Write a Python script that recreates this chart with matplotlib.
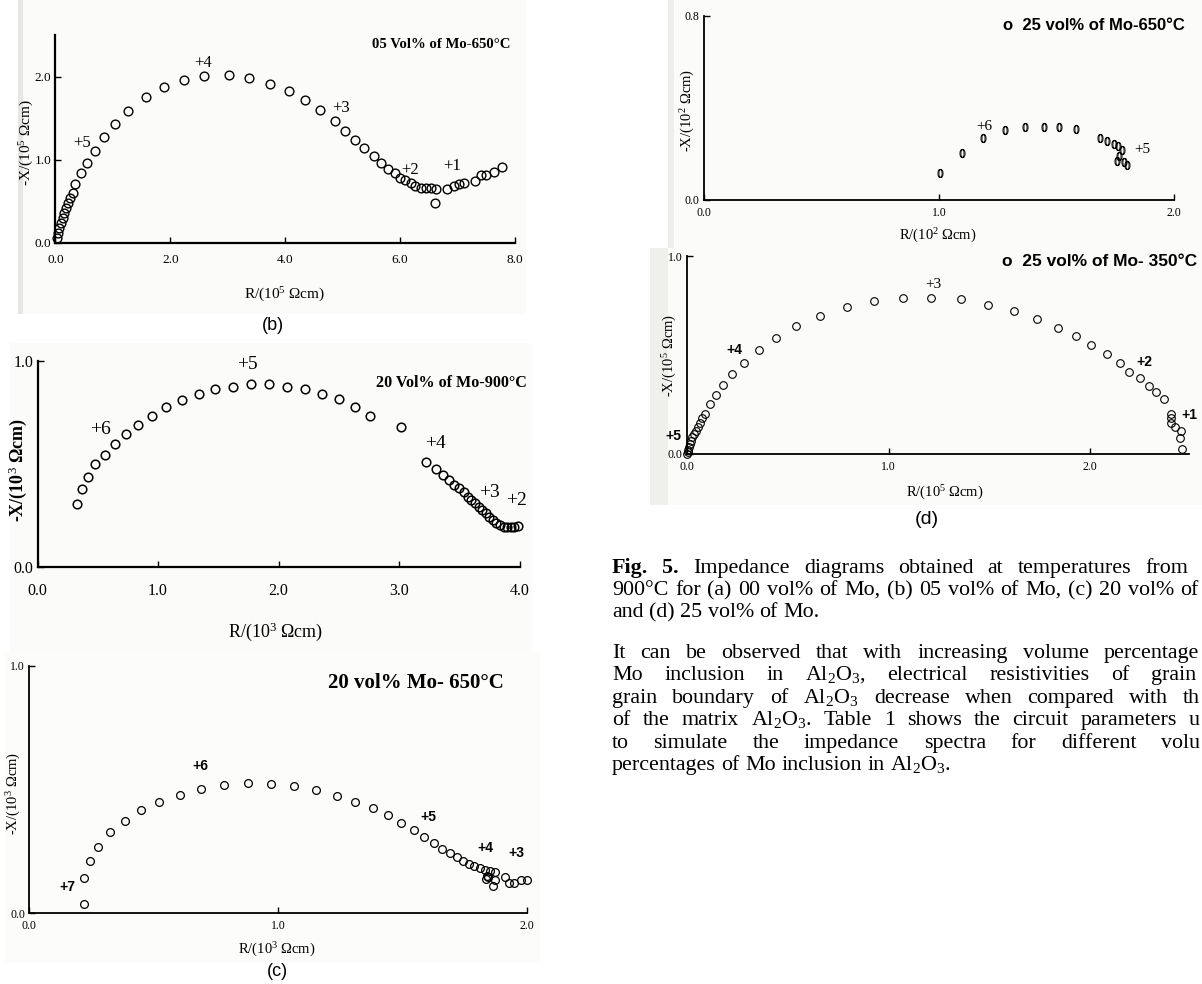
import matplotlib
matplotlib.use("Agg")
import matplotlib.pyplot as plt
from matplotlib.patches import Rectangle

plt.rcParams['font.family'] = ['Liberation Serif', 'DejaVu Serif']
plt.rcParams['mathtext.fontset'] = 'custom'
plt.rcParams['mathtext.rm'] = 'Liberation Serif'
plt.rcParams['mathtext.it'] = 'Liberation Serif:italic'
plt.rcParams['mathtext.bf'] = 'Liberation Serif:bold'

# ---------------- data ----------------
# (b) 05 vol% Mo - 650 C   (R in 1e5 ohm cm)
b_r = [0.031, 0.05, 0.068, 0.093, 0.124, 0.155, 0.186, 0.218, 0.249, 0.311, 0.348, 0.447, 0.547,
       0.684, 0.839, 1.032, 1.268, 1.572, 1.896, 2.237, 2.579, 3.014, 3.375, 3.741, 4.071, 4.351,
       4.612, 4.860, 5.040, 5.221, 5.376, 5.538, 5.668, 5.792, 5.904, 5.998, 6.091, 6.184, 6.265,
       6.358, 6.451, 6.544, 6.632, 6.607, 6.818, 6.930, 7.023, 7.116, 7.303, 7.415, 7.489, 7.626, 7.781]
b_x = [0.052, 0.113, 0.173, 0.233, 0.294, 0.354, 0.414, 0.475, 0.535, 0.604, 0.704, 0.837, 0.958,
       1.099, 1.268, 1.429, 1.590, 1.759, 1.879, 1.960, 2.008, 2.020, 1.984, 1.915, 1.823, 1.714,
       1.602, 1.469, 1.348, 1.235, 1.143, 1.042, 0.962, 0.893, 0.833, 0.781, 0.753, 0.720, 0.688,
       0.656, 0.656, 0.656, 0.652, 0.479, 0.652, 0.684, 0.704, 0.716, 0.748, 0.809, 0.817, 0.853, 0.917]
b_lab = ["+5", "+4", "+3", "+2", "+1"]
b_lab_r = [0.47, 2.57, 4.97, 6.18, 6.9]
b_lab_x = [1.2, 2.16, 1.62, 0.88, 0.92]

# 20 vol% Mo - 900 C  (R in 1e3 ohm cm)
m_r = [0.326, 0.370, 0.418, 0.474, 0.557, 0.640, 0.732, 0.836, 0.948, 1.067, 1.200, 1.336, 1.476,
       1.621, 1.769, 1.920, 2.068, 2.216, 2.359, 2.498, 2.631, 2.756, 3.013, 3.224, 3.304, 3.363,
       3.413, 3.458, 3.496, 3.535, 3.570, 3.600, 3.630, 3.659, 3.689, 3.719, 3.748, 3.778, 3.807,
       3.837, 3.867, 3.896, 3.926, 3.956, 3.985]
m_x = [0.304, 0.375, 0.435, 0.498, 0.542, 0.595, 0.642, 0.689, 0.731, 0.775, 0.807, 0.838, 0.861,
       0.872, 0.885, 0.885, 0.874, 0.861, 0.840, 0.812, 0.773, 0.733, 0.676, 0.508, 0.472, 0.443,
       0.421, 0.396, 0.380, 0.361, 0.340, 0.324, 0.307, 0.291, 0.275, 0.259, 0.243, 0.227, 0.214,
       0.202, 0.194, 0.191, 0.191, 0.194, 0.197]
m_lab = ["+6", "+5", "+4", "+3", "+2"]
m_lab_r = [0.52, 1.74, 3.30, 3.75, 3.97]
m_lab_x = [0.667, 0.98, 0.60, 0.36, 0.32]

# (c) 20 vol% Mo - 650 C  (R in 1e3 ohm cm)
c_r = [0.221, 0.221, 0.244, 0.277, 0.323, 0.383, 0.448, 0.523, 0.604, 0.691, 0.782, 0.879, 0.972,
       1.065, 1.151, 1.235, 1.311, 1.380, 1.443, 1.495, 1.545, 1.588, 1.625, 1.660, 1.690, 1.719,
       1.744, 1.767, 1.789, 1.810, 1.831, 1.852, 1.871, 1.838, 1.846, 1.835, 1.872, 1.865, 1.914,
       1.928, 1.950, 1.976, 2.000]
c_x = [0.038, 0.142, 0.213, 0.270, 0.330, 0.375, 0.416, 0.451, 0.480, 0.504, 0.520, 0.526, 0.524,
       0.515, 0.499, 0.476, 0.451, 0.426, 0.396, 0.365, 0.337, 0.307, 0.284, 0.261, 0.243, 0.226,
       0.212, 0.201, 0.191, 0.183, 0.175, 0.170, 0.167, 0.151, 0.146, 0.137, 0.135, 0.111, 0.148,
       0.124, 0.124, 0.135, 0.135]
c_lab = ["+7", "+6", "+5", "+4", "+3"]
c_lab_r = [0.152, 0.686, 1.605, 1.832, 1.96]
c_lab_x = [0.108, 0.596, 0.388, 0.263, 0.243]

# (d) 25 vol% Mo - 650 C  (R in 1e2 ohm cm)
d1_r = [1.006, 1.097, 1.188, 1.282, 1.364, 1.446, 1.511, 1.581, 1.684, 1.717, 1.743, 1.761, 1.778,
        1.764, 1.757, 1.787, 1.801]
d1_x = [0.118, 0.205, 0.268, 0.303, 0.316, 0.319, 0.319, 0.308, 0.270, 0.255, 0.244, 0.234, 0.216,
        0.190, 0.169, 0.166, 0.154]
d1_lab = ["+6", "+5"]
d1_lab_r = [1.193, 1.865]
d1_lab_x = [0.32, 0.219]

# (d) 25 vol% Mo - 350 C  (R in 1e5 ohm cm)
d2_r = [0.000, 0.004, 0.006, 0.010, 0.014, 0.020, 0.026, 0.034, 0.043, 0.053, 0.063, 0.075, 0.091,
        0.113, 0.142, 0.178, 0.223, 0.284, 0.355, 0.442, 0.543, 0.661, 0.792, 0.930, 1.072, 1.212,
        1.358, 1.493, 1.621, 1.735, 1.838, 1.929, 2.006, 2.083, 2.150, 2.193, 2.247, 2.292, 2.324,
        2.367, 2.401, 2.403, 2.399, 2.422, 2.448, 2.444, 2.454]
d2_x = [0.000, 0.008, 0.020, 0.034, 0.050, 0.067, 0.084, 0.101, 0.117, 0.137, 0.156, 0.181, 0.201,
        0.251, 0.298, 0.347, 0.402, 0.459, 0.523, 0.586, 0.645, 0.698, 0.742, 0.772, 0.787, 0.787,
        0.784, 0.755, 0.720, 0.682, 0.635, 0.595, 0.549, 0.504, 0.459, 0.415, 0.385, 0.343, 0.313,
        0.276, 0.204, 0.184, 0.159, 0.134, 0.114, 0.079, 0.025]
d2_lab = ["+5", "+4", "+3", "+2", "+1"]
d2_lab_r = [-0.07, 0.233, 1.22, 2.27, 2.49]
d2_lab_x = [0.09, 0.523, 0.858, 0.466, 0.196]

caption_lines = [
    ["Fig.", "5.", "Impedance", "diagrams", "obtained", "at", "temperatures", "from"],
    ["900°C", "for", "(a)", "00", "vol%", "of", "Mo,", "(b)", "05", "vol%", "of", "Mo,", "(c)", "20", "vol%", "of"],
    ["and", "(d)", "25", "vol%", "of", "Mo."],
]
para_lines = [
    ["It", "can", "be", "observed", "that", "with", "increasing", "volume", "percentage"],
    ["Mo", "inclusion", "in", "Al$_2$O$_3$,", "electrical", "resistivities", "of", "grain"],
    ["grain", "boundary", "of", "Al$_2$O$_3$", "decrease", "when", "compared", "with", "th"],
    ["of", "the", "matrix", "Al$_2$O$_3$.", "Table", "1", "shows", "the", "circuit", "parameters", "u"],
    ["to", "simulate", "the", "impedance", "spectra", "for", "different", "volu"],
    ["percentages", "of", "Mo", "inclusion", "in", "Al$_2$O$_3$."],
]

# ---------------- figure ----------------
W, H = 1202, 984
fig = plt.figure(figsize=(W / 100, H / 100), dpi=100)
fig.patch.set_facecolor('white')
SANS = ['Liberation Sans', 'DejaVu Sans']


def fx(x):
    return x / W


def fy(y):
    return 1 - y / H


def axes_px(l, r, t, b):
    return fig.add_axes([l / W, 1 - b / H, (r - l) / W, (b - t) / H])


def txt(x, y, s, **kw):
    return fig.text(x / W, 1 - y / H, s, **kw)


def bg(l, r, t, b, color, z=-10):
    fig.patches.append(Rectangle((fx(l), fy(b)), (r - l) / W, (b - t) / H,
                                 transform=fig.transFigure, facecolor=color,
                                 edgecolor='none', zorder=z))


# faint scanned-page backgrounds
bg(18, 526, 0, 314, '#fbfbfa')
bg(18, 23, 0, 314, '#e6e6e2')
bg(10, 532, 343, 652, '#fbfbfa')
bg(5, 540, 652, 962, '#fcfcfb')
bg(668, 1202, 0, 248, '#fbfbfa')
bg(668, 674, 0, 248, '#eeeeea')
bg(650, 1202, 248, 505, '#fbfbfa')
bg(650, 668, 248, 505, '#efefeb')


def panel(ax, r, x, xlim, ylim, xt, yt, ms, mew, tfs, lw=1.2, marker='o', xpad=5):
    ax.plot(r, x, linestyle='none', marker=marker, mfc='none', mec='black',
            color='black', ms=ms, mew=mew, clip_on=False)
    ax.set_xlim(*xlim)
    ax.set_ylim(*ylim)
    ax.set_facecolor('none')
    for s in ['top', 'right']:
        ax.spines[s].set_visible(False)
    for s in ['left', 'bottom']:
        ax.spines[s].set_linewidth(lw)
    ax.set_xticks(xt)
    ax.set_xticklabels([f"{v:.1f}" for v in xt], fontsize=tfs)
    ax.set_yticks(yt)
    ax.set_yticklabels([f"{v:.1f}" for v in yt], fontsize=tfs)
    ax.tick_params(axis='x', direction='in', length=4, width=1, pad=xpad)
    ax.tick_params(axis='y', direction='in', length=4, width=1, pad=3)


# Panel (b) top-left
ax1 = axes_px(55.4, 515, 35, 242.7)
panel(ax1, b_r, b_x, (0, 8), (0, 2.5), [0, 2, 4, 6, 8], [0, 1, 2], 6.3, 1.0, 9.5, lw=1.6, xpad=8)
for s, xr, yx in zip(b_lab, b_lab_r, b_lab_x):
    ax1.text(xr, yx, s, fontsize=12, ha='center', va='center')
txt(511, 45, "05 Vol% of Mo-650°C", fontsize=10.6, fontweight='bold', ha='right', va='center')
txt(284, 295, "R/(10$^5$ Ωcm)", fontsize=11, ha='center', va='center')
txt(27, 143, "-X/(10$^5$ Ωcm)", fontsize=11, ha='center', va='center', rotation=90)
txt(273, 325, "(b)", fontsize=13, ha='center', va='center', family=SANS)

# Panel 20 vol% 900 C
ax2 = axes_px(37.5, 519.6, 360.7, 566.7)
panel(ax2, m_r, m_x, (0, 4), (0, 1.0), [0, 1, 2, 3, 4], [0, 1], 6.2, 1.1, 11.5, lw=1.6, xpad=12)
for s, xr, yx in zip(m_lab, m_lab_r, m_lab_x):
    ax2.text(xr, yx, s, fontsize=14, ha='center', va='center')
txt(527, 383, "20 Vol% of Mo-900°C", fontsize=11.6, fontweight='bold', ha='right', va='center')
txt(276, 632, "R/(10$^3$ Ωcm)", fontsize=13, ha='center', va='center')
txt(18, 470, "-X/(10$^3$ Ωcm)", fontsize=13, fontweight='bold', ha='center', va='center', rotation=90)

# Panel (c)
ax3 = axes_px(29.3, 526.8, 666, 913.3)
panel(ax3, c_r, c_x, (0, 2), (0, 1.0), [0, 1, 2], [0, 1], 5.6, 0.9, 8.5, lw=1.3)
for s, xr, yx in zip(c_lab, c_lab_r, c_lab_x):
    ax3.text(xr, yx, s, fontsize=10, fontweight='bold', ha='center', va='center', family=SANS)
txt(416, 683, "20 vol% Mo- 650°C", fontsize=15, fontweight='bold', ha='center', va='center')
txt(277, 950, "R/(10$^3$ Ωcm)", fontsize=10.5, ha='center', va='center')
txt(14, 793, "-X/(10$^3$ Ωcm)", fontsize=10.5, ha='center', va='center', rotation=90)
txt(277, 972, "(c)", fontsize=13, ha='center', va='center', family=SANS)

# Panel (d) top
ax4 = axes_px(704, 1174, 16, 200)
panel(ax4, d1_r, d1_x, (0, 2), (0, 0.8), [0, 1, 2], [0, 0.8], 6, 0.6, 8.5, lw=1.3, marker='$0$')
for s, xr, yx in zip(d1_lab, d1_lab_r, d1_lab_x):
    ax4.text(xr, yx, s, fontsize=11, ha='center', va='center')
txt(1185, 25, "o  25 vol% of Mo-650°C", fontsize=12, fontweight='bold', ha='right', va='center', family=SANS)
txt(938, 236, "R/(10$^2$ Ωcm)", fontsize=10.5, ha='center', va='center')
txt(688, 110, "-X/(10$^2$ Ωcm)", fontsize=10.5, ha='center', va='center', rotation=90)

# Panel (d) bottom
ax5 = axes_px(687, 1189, 256, 454)
panel(ax5, d2_r, d2_x, (0, 2.49), (0, 1.0), [0, 1, 2], [0, 1], 5.5, 0.8, 8.5, lw=1.3)
for s, xr, yx in zip(d2_lab, d2_lab_r, d2_lab_x):
    if s == "+3":
        ax5.text(xr, yx, s, fontsize=11, ha='center', va='center')
    else:
        ax5.text(xr, yx, s, fontsize=10, fontweight='bold', ha='center', va='center', family=SANS)
txt(1197, 262, "o  25 vol% of Mo- 350°C", fontsize=12.5, fontweight='bold', ha='right', va='center', family=SANS)
txt(945, 493, "R/(10$^5$ Ωcm)", fontsize=10.5, ha='center', va='center')
txt(670, 355, "-X/(10$^5$ Ωcm)", fontsize=10.5, ha='center', va='center', rotation=90)
txt(927, 520, "(d)", fontsize=14, ha='center', va='center', family=SANS)

# ---------------- justified text ----------------
renderer = fig.canvas.get_renderer()
FS = 15.8


def wwidth(s, **kw):
    t = fig.text(0, 0, s, fontsize=FS, **kw)
    w = t.get_window_extent(renderer).width
    t.remove()
    return w


def put_line(words, x0, y, x_end=None, bold=0):
    kws = [dict(fontweight='bold') if i < bold else {} for i in range(len(words))]
    widths = [wwidth(w, **k) for w, k in zip(words, kws)]
    natural = 0.25 * FS * 100 / 72
    if x_end is None or len(words) < 2:
        gap = natural
    else:
        gap = max((x_end - x0 - sum(widths)) / (len(words) - 1), 0.45 * natural)
    x = x0
    for w, k, wd in zip(words, kws, widths):
        txt(x, y, w, fontsize=FS, ha='left', va='baseline', **k)
        x += wd + gap


X0 = 612
cap_y = [573, 595, 617]
cap_end = [1188, 1199, None]
for i, (words, y, e) in enumerate(zip(caption_lines, cap_y, cap_end)):
    put_line(words, X0, y, e, bold=2 if i == 0 else 0)

par_y = [658, 680, 703, 725, 748, 770]
par_end = [1199, 1196, 1200, 1200, 1200, None]
for words, y, e in zip(para_lines, par_y, par_end):
    put_line(words, X0, y, e)

fig.savefig("out.png", dpi=100)
